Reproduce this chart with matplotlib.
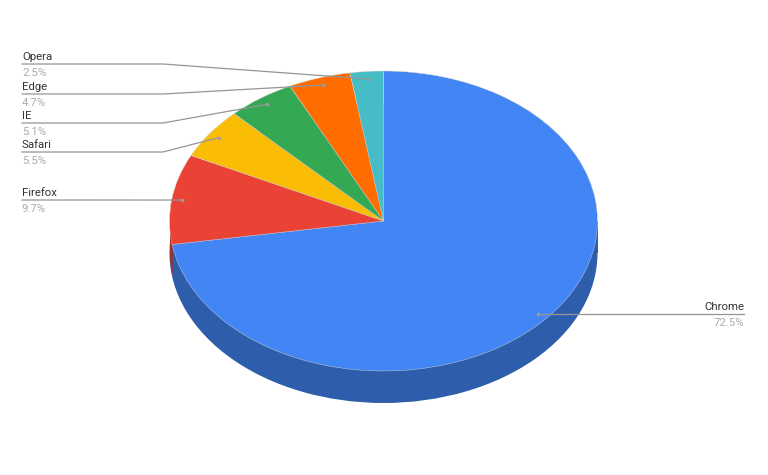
import numpy as np
import matplotlib.pyplot as plt
from matplotlib.patches import Rectangle

plt.rcParams['font.family'] = ['Roboto', 'DejaVu Sans']

browsers = ['Chrome', 'Firefox', 'Safari', 'IE', 'Edge', 'Opera']
shares = [72.5, 9.7, 5.5, 5.1, 4.7, 2.5]
top_colors = ['#4285f4', '#ea4335', '#fbbc04', '#34a853', '#ff6d01', '#46bdc6']
chrome_side = '#2e5dab'
firefox_side = '#a32f25'

# ellipse geometry in pixels
W, H = 768, 475
cx, cy = 383.5, 221
rx, ry = 214, 150
depth = 32

# where the labels sit
label_y = {'Opera': 64, 'Edge': 94, 'IE': 123, 'Safari': 152, 'Firefox': 200}
elbow_x = 163
left_x = 22
right_x = 744

fig = plt.figure(figsize=(W / 100, H / 100), dpi=100)

# pie axes: one data unit is rx across and ry down
ax = fig.add_axes([0, 0, 1, 1])
d = depth / ry
split = np.sin(np.radians(shares[0] * 3.6))

# lower ellipse and wall in the Chrome shade
ax.pie([sum(shares)], colors=[chrome_side], startangle=90, counterclock=False,
       center=(0, -d), wedgeprops={'linewidth': 0})
ax.add_patch(Rectangle((-1, -d), 2, d, color=chrome_side, lw=0))

# only a thin strip of the Firefox wall shows, left of the Chrome edge
xs = np.linspace(-1, split, 30)
ax.fill_between(xs, -d - np.sqrt(1 - xs ** 2), np.zeros_like(xs), color=firefox_side, lw=0)

ax.pie(shares, colors=top_colors, startangle=90, counterclock=False,
       wedgeprops={'linewidth': 0.3, 'edgecolor': '#d8d8d8'})
ax.set_aspect('auto')
ax.set_xlim(-cx / rx, (W - cx) / rx)
ax.set_ylim((cy - H) / ry, cy / ry)

# overlay in pixel coordinates for leader lines and labels
ov = fig.add_axes([0, 0, 1, 1])
ov.set_xlim(0, W)
ov.set_ylim(H, 0)
ov.axis('off')

line_col = '#959595'
fs = 8.2
edges = np.cumsum([0] + shares) * 3.6
for i, name in enumerate(browsers):
    mid = np.radians((edges[i] + edges[i + 1]) / 2)
    ax_x = cx + rx * 0.95 * np.sin(mid)
    ax_y = cy - ry * 0.95 * np.cos(mid)
    pct = f'{shares[i]}%'
    if name == 'Chrome':
        ov.plot([right_x, ax_x], [ax_y, ax_y], color=line_col, lw=0.9)
        ov.text(right_x, ax_y - 2, name, ha='right', va='bottom', fontsize=fs, color='#333333')
        ov.text(right_x, ax_y + 4, pct, ha='right', va='top', fontsize=fs, color='#ababab')
    else:
        y = label_y[name]
        if name == 'Firefox':
            ov.plot([left_x, ax_x], [y, ax_y], color=line_col, lw=0.9)
        else:
            ov.plot([left_x, elbow_x, ax_x], [y, y, ax_y], color=line_col, lw=0.9)
        ov.text(left_x, y - 2, name, ha='left', va='bottom', fontsize=fs, color='#333333')
        ov.text(left_x, y + 4, pct, ha='left', va='top', fontsize=fs, color='#ababab')
    ov.plot(ax_x, ax_y, 'o', ms=2.5, color='#9e9e9e', mew=0)

fig.savefig('out.png', dpi=100)
